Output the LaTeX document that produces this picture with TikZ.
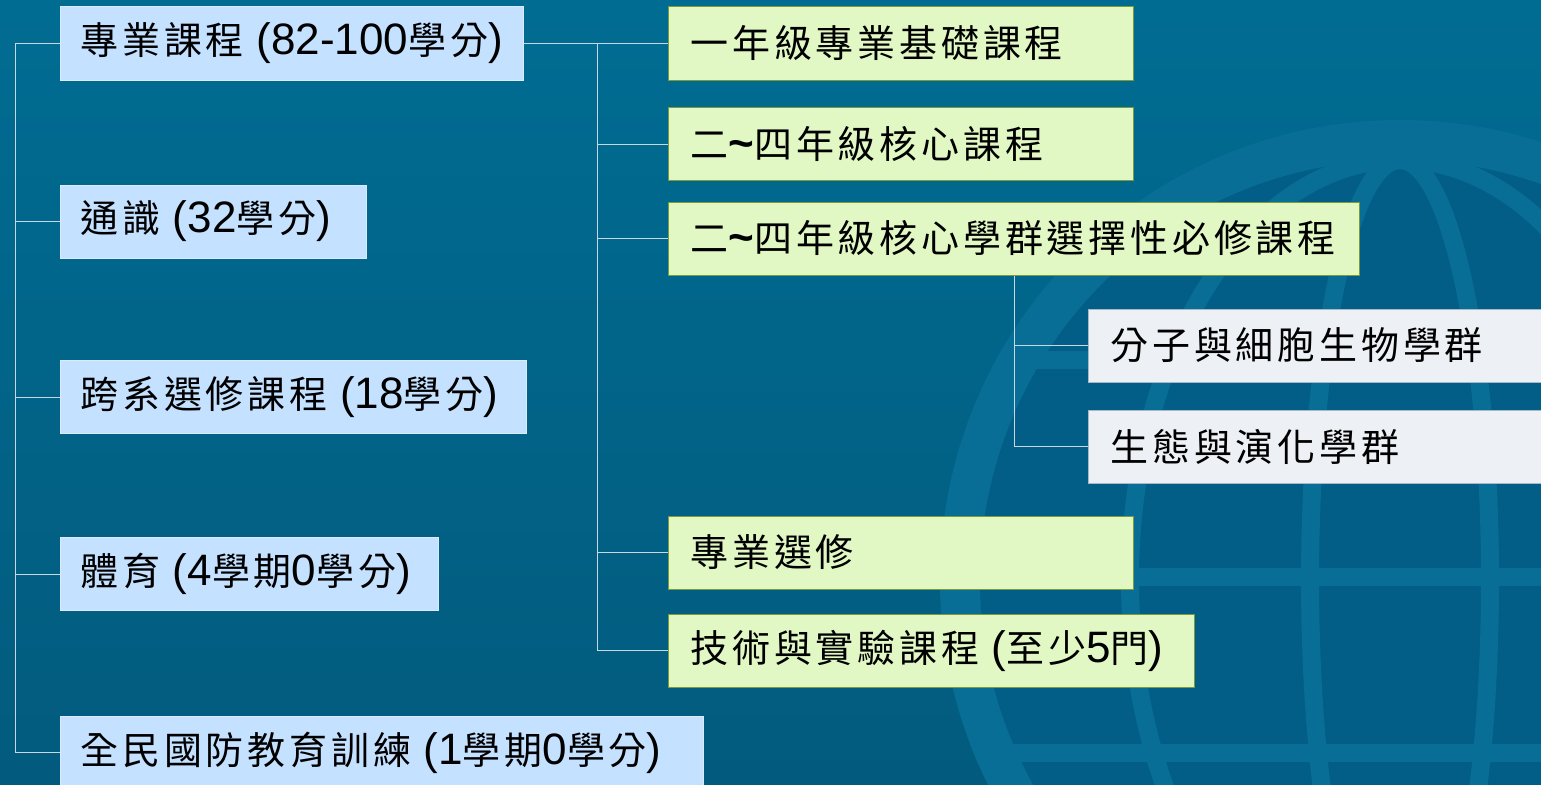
\documentclass[tikz,border=0pt]{standalone}
\usepackage{fontspec}
\setmainfont{Liberation Sans}
\newfontfamily\cjkfont[LetterSpace=10]{Noto Sans CJK TC}
\newfontfamily\latfont{Liberation Sans}
\newcommand\lat[1]{{\latfont\fontsize{44}{50}\selectfont #1}}
\newcommand\tld{\lat{\bfseries\textasciitilde}}

\definecolor{bgtop}{HTML}{016C92}
\definecolor{bgbot}{HTML}{025B7E}
\definecolor{globering}{HTML}{086E95}
\definecolor{globein}{HTML}{025E86}
\definecolor{linecol}{HTML}{C6D9E3}
\definecolor{bluefill}{HTML}{C4E1FF}
\definecolor{blueline}{HTML}{DDEBF8}
\definecolor{greenfill}{HTML}{E2F8C4}
\definecolor{greenline}{HTML}{7E9B3A}
\definecolor{grayfill}{HTML}{EDF1F5}
\definecolor{grayline}{HTML}{A8B8C6}

\begin{document}
\begin{tikzpicture}[x=1pt, y=-1pt,
    box/.style={rectangle, line width=1pt, minimum height=73pt,
      inner xsep=20pt, inner ysep=0pt, align=left, anchor=west,
      font=\cjkfont\fontsize{38}{46}\selectfont},
    lvl1/.style={box, fill=bluefill, draw=blueline},
    lvl2/.style={box, fill=greenfill, draw=greenline, inner xsep=22pt},
    lvl3/.style={box, fill=grayfill, draw=grayline, inner xsep=22pt},
    link/.style={draw=linecol, line width=1pt}
    ]
    \useasboundingbox (0,0) rectangle (1541,784);
    % background and globe
    \shade[top color=bgtop, bottom color=bgbot] (0,0) rectangle (1541,784);
    \begin{scope}
      \clip (1400,580) circle[radius=460pt];
      \fill[globering] (1400,580) circle[radius=460pt];
      \fill[globein] (1400,580) circle[radius=420pt];
      \draw[globering, line width=18pt] (900,577) -- (1900,577);
      \draw[globering, line width=18pt] (900,753) -- (1900,753);
      \draw[globering, line width=18pt] (900,360) -- (1900,360);
      \draw[globering, line width=18pt] (1400,580) ellipse[x radius=90pt, y radius=420pt];
      \draw[globering, line width=18pt] (1400,580) ellipse[x radius=270pt, y radius=420pt];
    \end{scope}

    % left column
    \node[lvl1, text width=423pt] (pro) at (60,43.5) {專業課程 \lat{(82-100}學分\lat{)}};
    \node[lvl1, text width=266pt] (gen) at (60,221.5) {通識 \lat{(32}學分\lat{)}};
    \node[lvl1, text width=426pt] (cross) at (60,397) {跨系選修課程 \lat{(18}學分\lat{)}};
    \node[lvl1, text width=338pt] (pe) at (60,574) {體育 \lat{(4}學期\lat{0}學分\lat{)}};
    \node[lvl1, text width=603pt] (def) at (60,752.5) {全民國防教育訓練 \lat{(1}學期\lat{0}學分\lat{)}};

    % middle column
    \node[lvl2, text width=421pt] (yr1) at (668,43.5) {一年級專業基礎課程};
    \node[lvl2, text width=421pt] (core) at (668,144) {二\tld 四年級核心課程};
    \node[lvl2, text width=647pt] (group) at (668,238.5) {二\tld 四年級核心學群選擇性必修課程};
    \node[lvl2, text width=421pt] (elec) at (668,552.5) {專業選修};
    \node[lvl2, text width=482pt] (tech) at (668,650.5) {技術與實驗課程 \lat{(}至少\lat{5}門\lat{)}};

    % right column
    \node[lvl3, text width=430pt] (mol) at (1088,345.5) {分子與細胞生物學群};
    \node[lvl3, text width=430pt] (eco) at (1088,446.5) {生態與演化學群};

    % connectors
    \draw[link] (pro.west) -| ([xshift=-45pt]def.west) -- (def.west);
    \foreach \n in {gen,cross,pe}
      \draw[link] (\n.west) -- ++(-45pt,0);
    \draw[link] (pro.east) -- (yr1.west);
    \draw[link] ([xshift=-71pt]yr1.west) |- (tech.west);
    \foreach \n in {core,group,elec}
      \draw[link] (\n.west) -- ++(-71pt,0);
    \draw[link] (group.south) |- (eco.west);
    \draw[link] (group.south |- mol.west) -- (mol.west);
\end{tikzpicture}
\end{document}
